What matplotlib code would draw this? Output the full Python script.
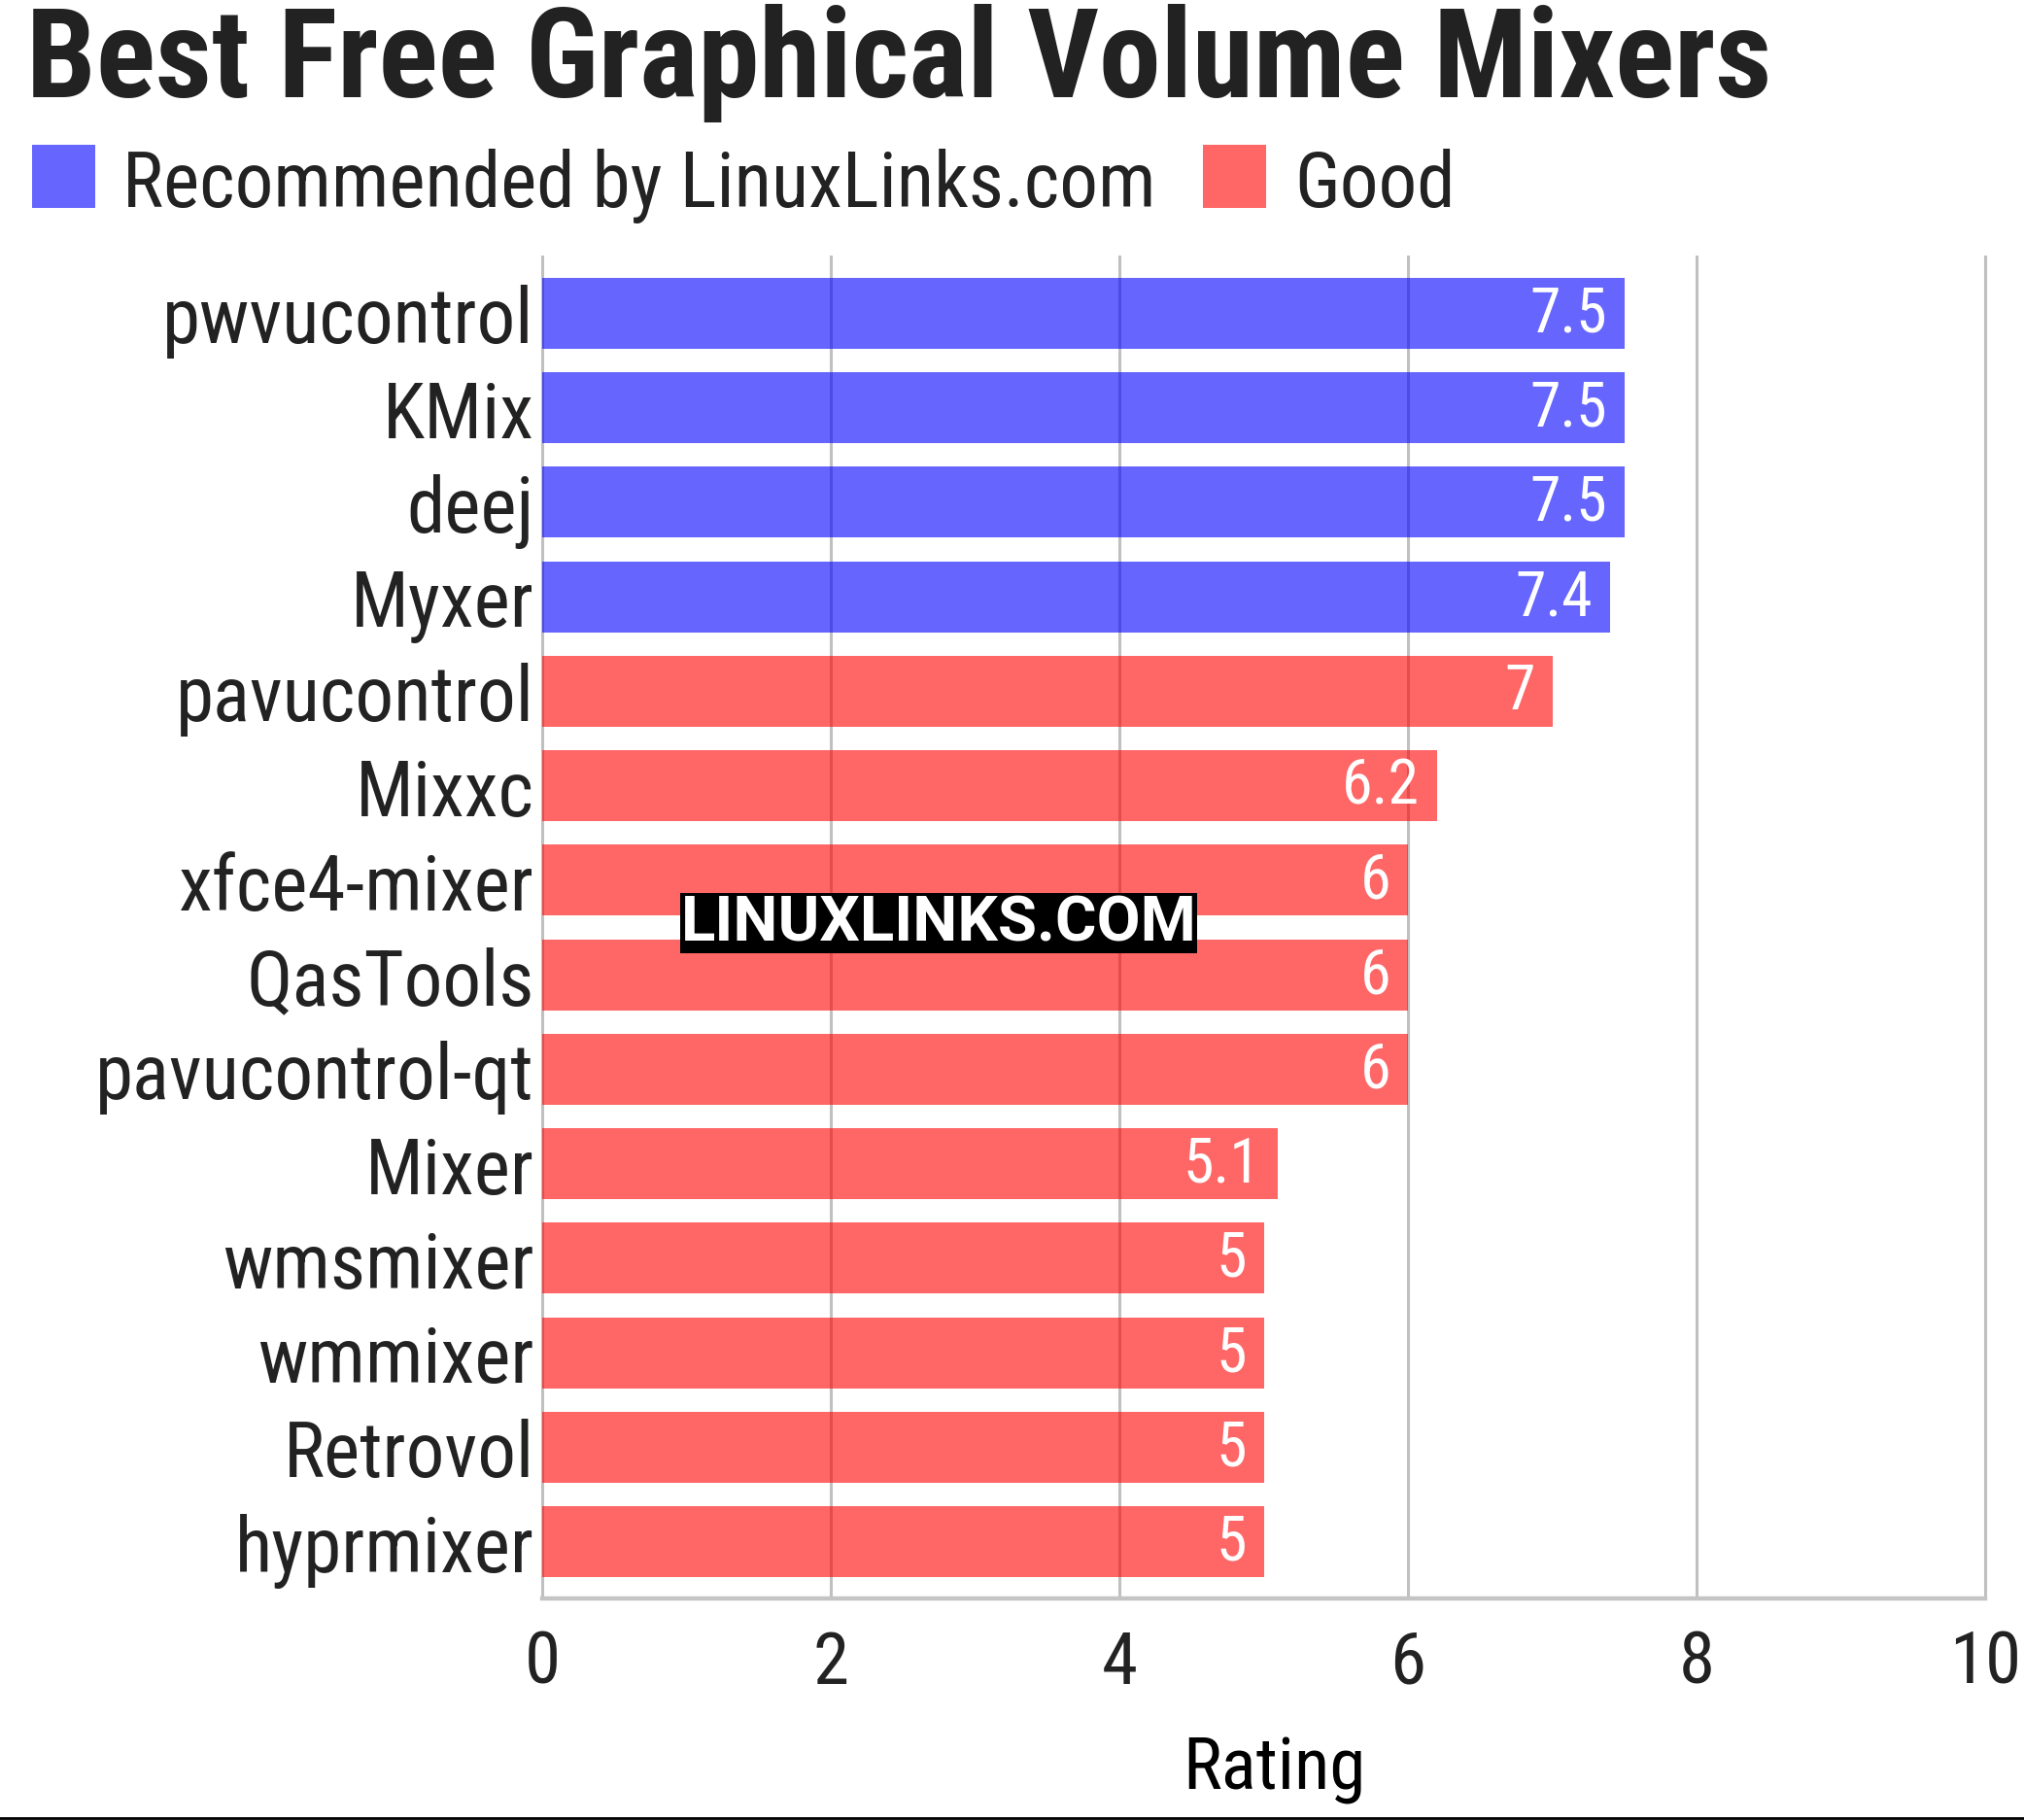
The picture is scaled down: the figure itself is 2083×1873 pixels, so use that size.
"""Best Free Graphical Volume Mixers - horizontal bar chart."""
import matplotlib
matplotlib.use("Agg")
import matplotlib.pyplot as plt
from matplotlib import font_manager
from matplotlib.patches import Rectangle
from matplotlib.lines import Line2D

# ===== data =====
names = ["pwvucontrol", "KMix", "deej", "Myxer", "pavucontrol", "Mixxc",
         "xfce4-mixer", "QasTools", "pavucontrol-qt", "Mixer", "wmsmixer",
         "wmmixer", "Retrovol", "hyprmixer"]
ratings = [7.5, 7.5, 7.5, 7.4, 7.0, 6.2, 6.0, 6.0, 6.0, 5.1, 5.0, 5.0, 5.0, 5.0]
groups = ["rec"] * 4 + ["good"] * 10
group_labels = {"rec": "Recommended by LinuxLinks.com", "good": "Good"}
group_colors = {"rec": "#0000ff", "good": "#ff0000"}
x_ticks = [0, 2, 4, 6, 8, 10]

# ===== font =====
available = {f.name for f in font_manager.fontManager.ttflist}
main_font = "DejaVu Sans"
for cand in ["Roboto Condensed", "Liberation Sans Narrow", "Roboto"]:
    if cand in available:
        main_font = cand
        break
mark_font = "Roboto" if "Roboto" in available else "DejaVu Sans"
plt.rcParams["font.family"] = [main_font, "DejaVu Sans"]
TXT = "#222222"

W, H = 2083, 1874
fig = plt.figure(figsize=(W / 100, H / 100), dpi=100)
ax = fig.add_axes([558 / W, 1 - 1646 / H, (2043 - 558) / W, (1646 - 265) / H])

y = list(range(len(names)))
colors = [group_colors[g] for g in groups]
ax.barh(y, ratings, height=0.75, color=colors, alpha=0.6, zorder=2)

for yi, v in zip(y, ratings):
    ax.text(v - 0.12, yi, f"{v:g}", ha="right", va="center", color="white",
            fontsize=46, zorder=3)

ax.set_xlim(0, 10)
ax.set_ylim(13.6, -0.6)
ax.set_xticks(x_ticks)
ax.set_xticklabels([str(t) for t in x_ticks])
ax.set_yticks(y)
ax.set_yticklabels(names)
ax.tick_params(axis="both", length=0, colors=TXT)
ax.tick_params(axis="y", pad=6, labelsize=57)
ax.tick_params(axis="x", pad=22, labelsize=54)
ax.xaxis.grid(True, color="#c0c0c0", linewidth=2.2, zorder=1)
for gl in ax.get_xgridlines():
    gl.set_clip_on(False)
ax.set_axisbelow(True)
for s in ["top", "right", "left"]:
    ax.spines[s].set_visible(False)
ax.spines["bottom"].set_color("#c4c4c4")
ax.spines["bottom"].set_linewidth(3.2)
ax.set_xlabel("Rating", fontsize=54, color="black", labelpad=27)
ax.xaxis.label.set_x(0.5 + 11 / 1485)

# title
fig.text(27 / W, 1 - 100 / H, "Best Free Graphical Volume Mixers", fontsize=92,
         fontweight="bold", color=TXT, ha="left", va="baseline")

# legend
for key, sx, tx in [("rec", 33, 126), ("good", 1238, 1332)]:
    fig.patches.append(Rectangle((sx / W, 1 - 215 / H), 65 / W, 65 / H,
                                 transform=fig.transFigure, color=group_colors[key],
                                 alpha=0.6, linewidth=0))
    fig.text(tx / W, 1 - 213 / H, group_labels[key], fontsize=57, color=TXT,
             ha="left", va="baseline")

# watermark
fig.text(966 / W, 1 - 951 / H, "LINUXLINKS.COM", fontsize=47, fontweight="bold",
         family=mark_font, color="white", ha="center", va="center",
         bbox=dict(facecolor="black", edgecolor="none", pad=0.5), zorder=5)

# bottom rule
fig.add_artist(Line2D([0, 1], [1 - 1872 / H] * 2, transform=fig.transFigure,
                      color="black", linewidth=2))

fig.savefig("out.png", dpi=100)
